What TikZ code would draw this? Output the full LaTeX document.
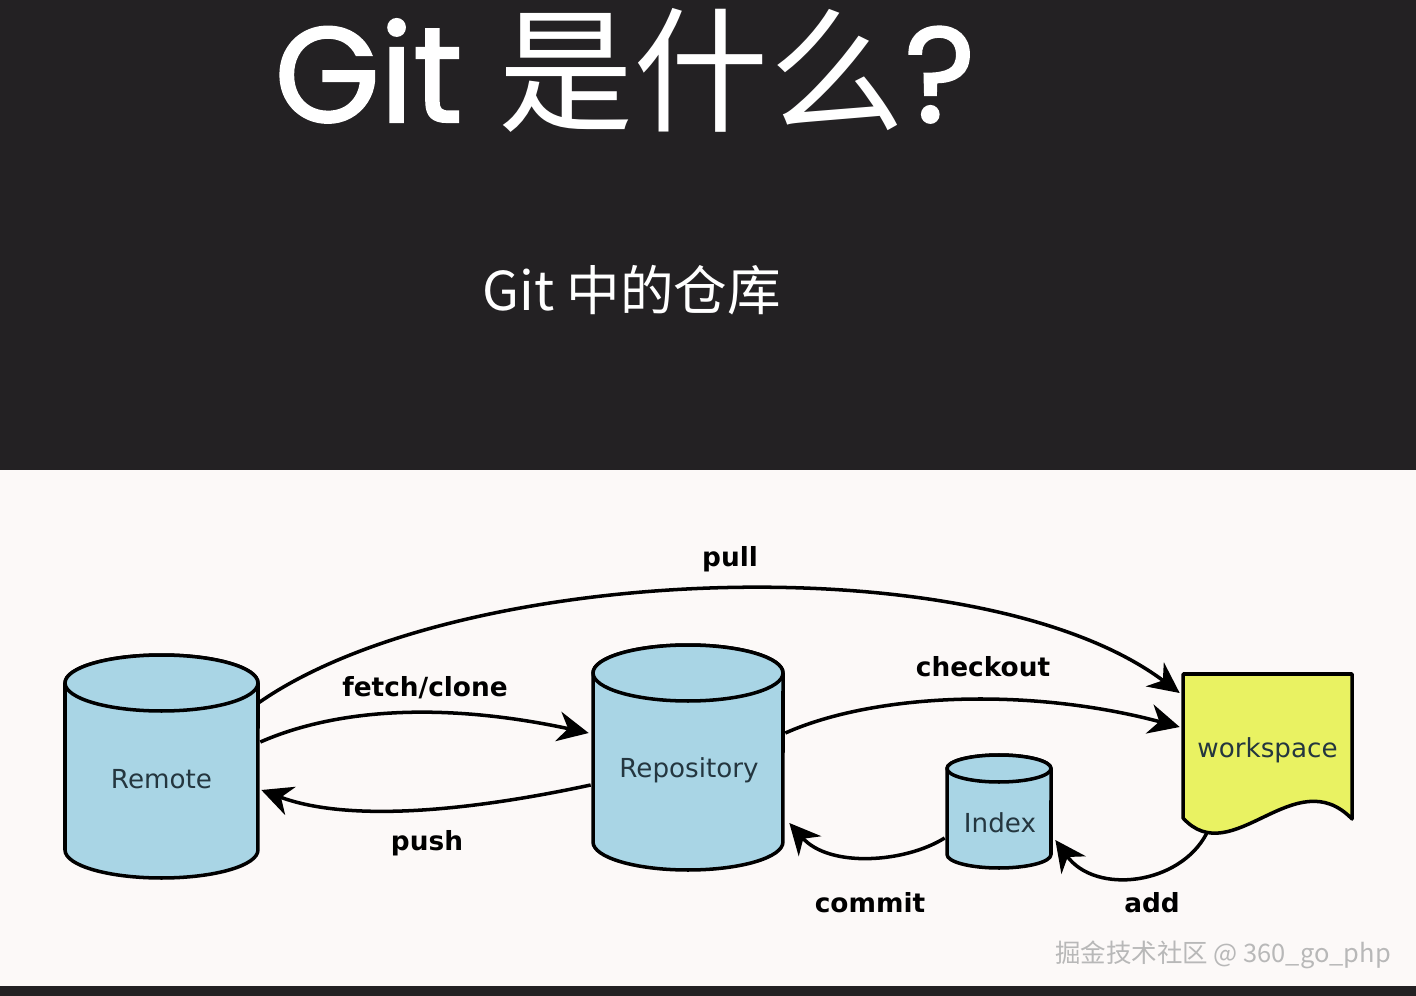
\documentclass[tikz,border=0pt]{standalone}
\usepackage{fontspec}
\setmainfont{DejaVu Sans}
\newfontfamily\cjkfont{Noto Sans CJK SC}
\newfontfamily\headfont[FakeBold=1.6]{Poppins}
\usepackage{tikz}
\usetikzlibrary{arrows.meta,calc}
\definecolor{slatebg}{HTML}{232123}
\definecolor{paperbg}{HTML}{FCF9F8}
\definecolor{drumblue}{HTML}{A9D5E5}
\definecolor{sheetyellow}{HTML}{E9F262}
\definecolor{inktext}{HTML}{24363F}
\definecolor{markgray}{HTML}{B8B8B8}

\begin{document}
\begin{tikzpicture}[x=0.02cm, y=-0.02cm,
	store/.style={shape=rectangle, inner sep=0, text=inktext, font=\fontsize{14.9}{18}\selectfont},
	outline/.style={draw=black, line width=2pt, line join=round},
	flow/.style={-{Stealth[length=0.62cm, width=0.6cm, inset=0.2cm]}, line width=2pt},
	verb/.style={inner sep=0, font=\bfseries\fontsize{15}{18}\selectfont}]
	% Backdrop:
	\useasboundingbox (0,0) rectangle (1416,996);
	\fill[slatebg] (0,0) rectangle (1416,470);
	\fill[paperbg] (0,470) rectangle (1416,986);
	\fill[slatebg] (0,986) rectangle (1416,996);
	% Headings:
	\node[anchor=base, text=white, font=\fontsize{77}{84}\selectfont] (Head1) at (625,122) {\headfont Git \cjkfont 是什么\headfont ?};
	\node[anchor=base, text=white, font=\cjkfont\fontsize{30.5}{36}\selectfont] (Head2) at (632,311) {Git 中的仓库};
	% Shapes:
	\draw[outline, fill=drumblue] (65,683) -- (65,850) arc[start angle=180, end angle=360, x radius=1.93cm, y radius=0.56cm] -- (258,683) arc[start angle=0, end angle=180, x radius=1.93cm, y radius=0.56cm] -- cycle;
	\draw[outline, fill=drumblue] (161.5,683) ellipse [x radius=1.93cm, y radius=0.56cm];
	\draw[outline, fill=drumblue] (593,673) -- (593,842) arc[start angle=180, end angle=360, x radius=1.9cm, y radius=0.56cm] -- (783,673) arc[start angle=0, end angle=180, x radius=1.9cm, y radius=0.56cm] -- cycle;
	\draw[outline, fill=drumblue] (688,673) ellipse [x radius=1.9cm, y radius=0.56cm];
	\draw[outline, fill=drumblue] (947,768.5) -- (947,854.5) arc[start angle=180, end angle=360, x radius=1.04cm, y radius=0.27cm] -- (1051,768.5) arc[start angle=0, end angle=180, x radius=1.04cm, y radius=0.27cm] -- cycle;
	\draw[outline, fill=drumblue] (999,768.5) ellipse [x radius=1.04cm, y radius=0.27cm];
	\draw[outline, fill=sheetyellow] (1183,674) -- (1352,674) -- (1352,819) .. controls (1295,760) and (1232,872) .. (1183,818) -- cycle;
	% Nodes:
	\node[store, minimum width=3.86cm, minimum height=3.9cm] (Remote) at (161.5,779) {Remote};
	\node[store, minimum width=3.8cm, minimum height=3.94cm] (Repo) at (689,770.5) {Repository};
	\node[store, minimum width=2.08cm, minimum height=1.99cm] (Index) at (1000,823) {Index};
	\node[store, minimum width=3.38cm, minimum height=3.04cm] (Work) at (1267.5,750) {workspace};
	% Arrows:
	\draw[flow] ($(Remote.east)+(0,-76)$) .. controls +(200,-140) and +(-200,-150) .. ($(Work.west)+(-3,-57)$);
	\draw[flow] ($(Remote.east)+(2,-37)$) .. controls +(80,-35) and +(-140,-30) .. ($(Repo.west)+(-5,-37.5)$);
	\draw[flow] ($(Repo.west)+(-3,14.5)$) .. controls +(-140,30) and +(80,30) .. ($(Remote.east)+(3,11)$);
	\draw[flow] ($(Repo.east)+(1,-37.5)$) .. controls +(90,-40) and +(-150,-40) .. ($(Work.west)+(-3,-23)$);
	\draw[flow] ($(Index.west)+(-3,15)$) .. controls +(-40,25) and +(40,45) .. ($(Repo.east)+(5,52.5)$);
	\draw[flow] ($(Work.south west)+(24,7)$) .. controls +(-27,52) and +(40,55) .. ($(Index.east)+(3,17)$);
	% Labels:
	\node[verb] (Txt1) at (730,559) {pull};
	\node[verb] (Txt2) at (425,688) {fetch/clone};
	\node[verb] (Txt3) at (427,843) {push};
	\node[verb] (Txt4) at (983,667) {checkout};
	\node[verb] (Txt5) at (870,903) {commit};
	\node[verb] (Txt6) at (1152,903) {add};
	\node[text=markgray, inner sep=0, font=\cjkfont\fontsize{14.5}{17}\selectfont] (Mark1) at (1223,955) {掘金技术社区 @ 360\_go\_php};
\end{tikzpicture}
\end{document}
